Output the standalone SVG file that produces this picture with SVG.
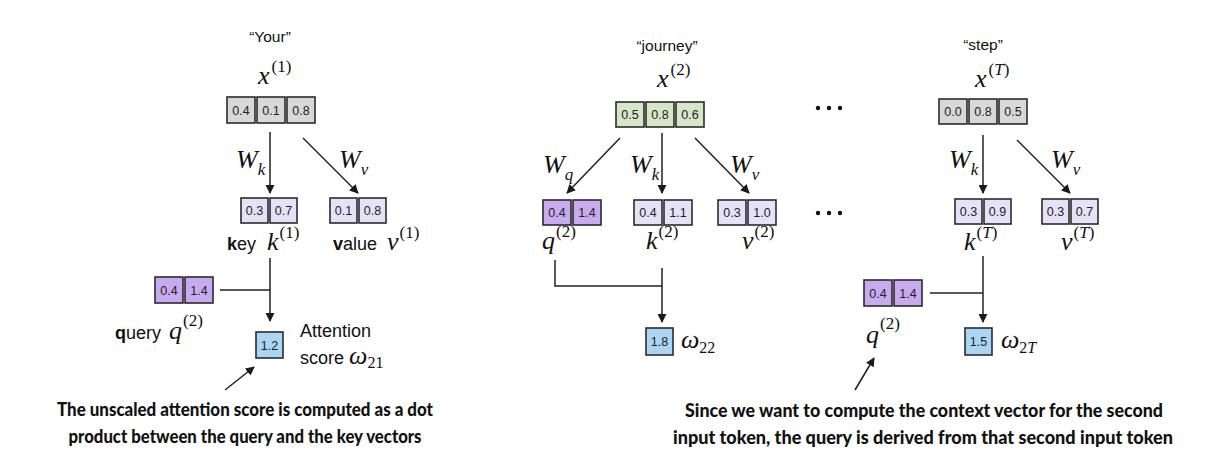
<svg xmlns="http://www.w3.org/2000/svg" width="1212" height="462" viewBox="0 0 1212 462">
<defs>
<marker id="ah" viewBox="0 0 10 10" refX="9" refY="5" markerWidth="9" markerHeight="9" markerUnits="userSpaceOnUse" orient="auto">
<path d="M0,0 L10,5 L0,10 z" fill="#1a1a1a"/>
</marker>
<style>
.c{stroke:#2b2b2b;stroke-width:1.6}
.gray{fill:#d8d8d8}
.green{fill:#d6e7c8}
.lp{fill:#e5e2f8}
.dp{fill:#c8abef}
.blue{fill:#abd5f3}
.num{font-family:"Liberation Sans",Arial,sans-serif;font-size:12.5px;fill:#222;text-anchor:middle}
.lbl{font-family:"Liberation Sans",Arial,sans-serif;font-size:15.5px;fill:#111}
.word{font-family:"Liberation Sans",Arial,sans-serif;font-size:18px;fill:#111}
.mi{font-family:"Liberation Serif","Times New Roman",serif;font-style:italic;font-size:26px;fill:#111}
.sup{font-style:normal;font-size:17px}
.sub{font-size:17px}
.subn{font-style:normal;font-size:16px}
.note{font-family:Lato,"Open Sans",sans-serif;font-weight:900;font-size:18px;fill:#111;text-anchor:middle}
.ln{stroke:#222;stroke-width:1.5;fill:none}
.dot{fill:#111}
</style>
</defs>

<g id="connectors">
<line class="ln" x1="270" y1="132" x2="270" y2="193" marker-end="url(#ah)"/>
<line class="ln" x1="303" y1="138" x2="358" y2="193" marker-end="url(#ah)"/>
<polyline class="ln" points="220,290 270,290"/>
<line class="ln" x1="270" y1="258" x2="270" y2="321" marker-end="url(#ah)"/>
<line class="ln" x1="225" y1="390" x2="254" y2="367" marker-end="url(#ah)"/>
<line class="ln" x1="620" y1="138" x2="567" y2="193" marker-end="url(#ah)"/>
<line class="ln" x1="662" y1="133" x2="662" y2="193" marker-end="url(#ah)"/>
<line class="ln" x1="695" y1="138" x2="749" y2="193" marker-end="url(#ah)"/>
<polyline class="ln" points="555,260 555,286 662,286"/>
<line class="ln" x1="662" y1="268" x2="662" y2="322" marker-end="url(#ah)"/>
<line class="ln" x1="983" y1="135" x2="983" y2="193" marker-end="url(#ah)"/>
<line class="ln" x1="1017" y1="140" x2="1070" y2="193" marker-end="url(#ah)"/>
<polyline class="ln" points="930,293 983,293"/>
<line class="ln" x1="983" y1="256" x2="983" y2="322" marker-end="url(#ah)"/>
<line class="ln" x1="855" y1="390" x2="874" y2="358" marker-end="url(#ah)"/>
</g>

<g id="x1">
<text class="lbl" x="270" y="42" text-anchor="middle">“Your”</text>
<text class="mi" x="258" y="84">x<tspan class="sup" dx="2" dy="-12">(1)</tspan></text>
<rect class="c gray" x="227" y="97" width="28" height="26"/><text class="num" x="241" y="115">0.4</text>
<rect class="c gray" x="257" y="97" width="28" height="26"/><text class="num" x="271" y="115">0.1</text>
<rect class="c gray" x="287" y="97" width="28" height="26"/><text class="num" x="301" y="115">0.8</text>
<text class="mi" x="236" y="168">W<tspan class="sub" dy="7">k</tspan></text>
<text class="mi" x="339" y="168">W<tspan class="sub" dy="7">v</tspan></text>
</g>

<g id="k1">
<rect class="c lp" x="241" y="198" width="27" height="25"/><text class="num" x="254.5" y="215">0.3</text>
<rect class="c lp" x="270" y="198" width="27" height="25"/><text class="num" x="283.5" y="215">0.7</text>
<text class="word" x="227" y="250"><tspan font-weight="bold">k</tspan>ey</text>
<text class="mi" x="267" y="250">k<tspan class="sup" dx="1" dy="-12">(1)</tspan></text>
</g>

<g id="v1">
<rect class="c lp" x="330" y="198" width="27" height="25"/><text class="num" x="343.5" y="215">0.1</text>
<rect class="c lp" x="359" y="198" width="27" height="25"/><text class="num" x="372.5" y="215">0.8</text>
<text class="word" x="333" y="250"><tspan font-weight="bold">v</tspan>alue</text>
<text class="mi" x="387" y="250">v<tspan class="sup" dx="1" dy="-12">(1)</tspan></text>
</g>

<g id="q1">
<rect class="c dp" x="155" y="277" width="28" height="26"/><text class="num" x="169" y="295">0.4</text>
<rect class="c dp" x="185" y="277" width="28" height="26"/><text class="num" x="199" y="295">1.4</text>
<text class="word" x="115" y="339"><tspan font-weight="bold">q</tspan>uery</text>
<text class="mi" x="169" y="339">q<tspan class="sup" dx="1" dy="-13">(2)</tspan></text>
</g>

<g id="score21">
<rect class="c blue" x="256" y="332" width="27" height="26"/><text class="num" x="269.5" y="350">1.2</text>
<text class="word" x="300" y="337" font-size="16">Attention</text>
<text class="word" x="300" y="364" font-size="16">score <tspan class="mi" font-size="20">ω</tspan><tspan class="mi subn" dy="4" font-size="15">21</tspan></text>
</g>

<g id="note-left">
<text class="note" x="245" y="416" textLength="376" lengthAdjust="spacingAndGlyphs">The unscaled attention score is computed as a dot</text>
<text class="note" x="245" y="443" textLength="353" lengthAdjust="spacingAndGlyphs">product between the query and the key vectors</text>
</g>

<g id="x2">
<text class="lbl" x="667" y="51" text-anchor="middle">“journey”</text>
<text class="mi" x="657" y="87">x<tspan class="sup" dx="2" dy="-12">(2)</tspan></text>
<rect class="c green" x="616" y="102" width="28" height="25"/><text class="num" x="630" y="119">0.5</text>
<rect class="c green" x="646" y="102" width="28" height="25"/><text class="num" x="660" y="119">0.8</text>
<rect class="c green" x="676" y="102" width="28" height="25"/><text class="num" x="690" y="119">0.6</text>
<text class="mi" x="543" y="173">W<tspan class="sub" dy="7">q</tspan></text>
<text class="mi" x="630" y="173">W<tspan class="sub" dy="7">k</tspan></text>
<text class="mi" x="730" y="173">W<tspan class="sub" dy="7">v</tspan></text>
</g>

<g id="q2">
<rect class="c dp" x="543" y="200" width="28" height="25"/><text class="num" x="557" y="217">0.4</text>
<rect class="c dp" x="573" y="200" width="28" height="25"/><text class="num" x="587" y="217">1.4</text>
<text class="mi" x="542" y="249">q<tspan class="sup" dx="1" dy="-12">(2)</tspan></text>
</g>

<g id="k2">
<rect class="c lp" x="634" y="200" width="28" height="25"/><text class="num" x="648" y="217">0.4</text>
<rect class="c lp" x="664" y="200" width="28" height="25"/><text class="num" x="678" y="217">1.1</text>
<text class="mi" x="646" y="249">k<tspan class="sup" dx="1" dy="-12">(2)</tspan></text>
</g>

<g id="v2">
<rect class="c lp" x="718" y="200" width="28" height="25"/><text class="num" x="732" y="217">0.3</text>
<rect class="c lp" x="748" y="200" width="28" height="25"/><text class="num" x="762" y="217">1.0</text>
<text class="mi" x="742" y="249">v<tspan class="sup" dx="1" dy="-12">(2)</tspan></text>
</g>

<g id="score22">
<rect class="c blue" x="646" y="328" width="27" height="27"/><text class="num" x="659.5" y="346">1.8</text>
<text class="mi" x="681" y="348" font-size="22">ω<tspan class="subn" dy="5">22</tspan></text>
</g>

<g id="ellipsis">
<circle class="dot" cx="818" cy="108" r="2.2"/><circle class="dot" cx="829" cy="108" r="2.2"/><circle class="dot" cx="840" cy="108" r="2.2"/>
<circle class="dot" cx="818" cy="213" r="2.2"/><circle class="dot" cx="829" cy="213" r="2.2"/><circle class="dot" cx="840" cy="213" r="2.2"/>
</g>

<g id="xT">
<text class="lbl" x="983" y="50" text-anchor="middle">“step”</text>
<text class="mi" x="975" y="87">x<tspan class="sup" dx="2" dy="-12">(<tspan font-style="italic">T</tspan>)</tspan></text>
<rect class="c gray" x="939" y="99" width="28" height="25"/><text class="num" x="953" y="116">0.0</text>
<rect class="c gray" x="969" y="99" width="28" height="25"/><text class="num" x="983" y="116">0.8</text>
<rect class="c gray" x="999" y="99" width="28" height="25"/><text class="num" x="1013" y="116">0.5</text>
<text class="mi" x="949" y="168">W<tspan class="sub" dy="7">k</tspan></text>
<text class="mi" x="1051" y="168">W<tspan class="sub" dy="7">v</tspan></text>
</g>

<g id="kT">
<rect class="c lp" x="955" y="199" width="27" height="25"/><text class="num" x="968.5" y="216">0.3</text>
<rect class="c lp" x="984" y="199" width="27" height="25"/><text class="num" x="997.5" y="216">0.9</text>
<text class="mi" x="964" y="250">k<tspan class="sup" dx="1" dy="-12">(<tspan font-style="italic">T</tspan>)</tspan></text>
</g>

<g id="vT">
<rect class="c lp" x="1042" y="199" width="27" height="25"/><text class="num" x="1055.5" y="216">0.3</text>
<rect class="c lp" x="1071" y="199" width="27" height="25"/><text class="num" x="1084.5" y="216">0.7</text>
<text class="mi" x="1061" y="250">v<tspan class="sup" dx="1" dy="-12">(<tspan font-style="italic">T</tspan>)</tspan></text>
</g>

<g id="qT">
<rect class="c dp" x="864" y="280" width="28" height="26"/><text class="num" x="878" y="298">0.4</text>
<rect class="c dp" x="894" y="280" width="28" height="26"/><text class="num" x="908" y="298">1.4</text>
<text class="mi" x="866" y="343">q<tspan class="sup" dx="1" dy="-14">(2)</tspan></text>
</g>

<g id="score2T">
<rect class="c blue" x="965" y="328" width="27" height="27"/><text class="num" x="978.5" y="346">1.5</text>
<text class="mi" x="1001" y="348" font-size="22">ω<tspan class="subn" dy="5">2</tspan><tspan font-size="16">T</tspan></text>
</g>

<g id="note-right">
<text class="note" x="924" y="417" textLength="478" lengthAdjust="spacingAndGlyphs">Since we want to compute the context vector for the second</text>
<text class="note" x="923" y="444" textLength="500" lengthAdjust="spacingAndGlyphs">input token, the query is derived from that second input token</text>
</g>
</svg>
